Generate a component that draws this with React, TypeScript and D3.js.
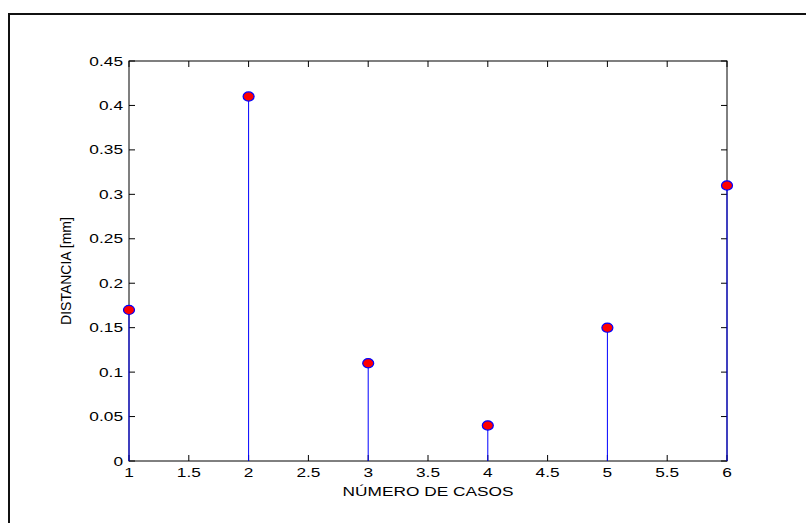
import React from "react";
import * as d3 from "d3";

const cases = [1, 2, 3, 4, 5, 6];
const distances = [0.17, 0.41, 0.11, 0.04, 0.15, 0.31];
const xTicks = [1, 1.5, 2, 2.5, 3, 3.5, 4, 4.5, 5, 5.5, 6];
const xTickLabels = ["1", "1.5", "2", "2.5", "3", "3.5", "4", "4.5", "5", "5.5", "6"];
const yTicks = [0, 0.05, 0.1, 0.15, 0.2, 0.25, 0.3, 0.35, 0.4, 0.45];
const yTickLabels = ["0", "0.05", "0.1", "0.15", "0.2", "0.25", "0.3", "0.35", "0.4", "0.45"];
const xLabel = "NÚMERO DE CASOS";
const yLabel = "DISTANCIA [mm]";

const W = 806;
const H = 523;
const left = 129;
const right = 727;
const top = 61;
const bottom = 461;
const SX = 1.33;
const FS = 13;
const font = "'Liberation Sans', Arial, sans-serif";

export default function App() {
  const x = d3.scaleLinear().domain([1, 6]).range([left, right]);
  const y = d3.scaleLinear().domain([0, 0.45]).range([bottom, top]);
  const tl = 6;
  return (
    <svg
      width={W}
      height={H}
      style={{ position: "absolute", left: 0, top: 0, background: "#fff" }}
      fontFamily={font}
    >
      <rect x={0} y={0} width={W} height={H} fill="#fff" />
      {/* outer frame (top and left only visible) */}
      <line x1={8} y1={14} x2={W} y2={14} stroke="#111" strokeWidth={2} />
      <line x1={9} y1={13} x2={9} y2={H} stroke="#111" strokeWidth={2} />

      {/* plot box */}
      <rect x={left} y={top} width={right - left} height={bottom - top} fill="#fff" stroke="#000" strokeWidth={1} />

      {/* x ticks */}
      {xTicks.map((t, i) => (
        <g key={"xt" + i}>
          <line x1={x(t)} x2={x(t)} y1={bottom} y2={bottom - tl} stroke="#000" />
          <line x1={x(t)} x2={x(t)} y1={top} y2={top + tl} stroke="#000" />
          <text
            transform={`translate(${x(t)},477) scale(${SX},1)`}
            textAnchor="middle"
            fontSize={FS}
            fill="#000"
          >
            {xTickLabels[i]}
          </text>
        </g>
      ))}
      {/* y ticks */}
      {yTicks.map((t, i) => (
        <g key={"yt" + i}>
          <line x1={left} x2={left + tl} y1={y(t)} y2={y(t)} stroke="#000" />
          <line x1={right} x2={right - tl} y1={y(t)} y2={y(t)} stroke="#000" />
          <text
            transform={`translate(123,${y(t) + 4.5}) scale(${SX},1)`}
            textAnchor="end"
            fontSize={FS}
            fill="#000"
          >
            {yTickLabels[i]}
          </text>
        </g>
      ))}

      {/* axis labels */}
      <text
        transform={`translate(${(left + right) / 2},496) scale(${SX},1)`}
        textAnchor="middle"
        fontSize={FS}
        fill="#000"
      >
        {xLabel}
      </text>
      <text
        transform={`translate(71,271) scale(1.1,1) rotate(-90)`}
        textAnchor="middle"
        fontSize={14}
        fill="#000"
      >
        {yLabel}
      </text>

      {/* stems */}
      {cases.map((c, i) => (
        <line
          key={"s" + i}
          x1={x(c)}
          x2={x(c)}
          y1={y(0)}
          y2={y(distances[i])}
          stroke="#0000ff"
          strokeWidth={1}
        />
      ))}
      {/* markers */}
      {cases.map((c, i) => (
        <ellipse
          key={"m" + i}
          cx={x(c)}
          cy={y(distances[i])}
          rx={5.5}
          ry={4.6}
          fill="#ff0000"
          stroke="#0000ff"
          strokeWidth={1.2}
        />
      ))}
    </svg>
  );
}
